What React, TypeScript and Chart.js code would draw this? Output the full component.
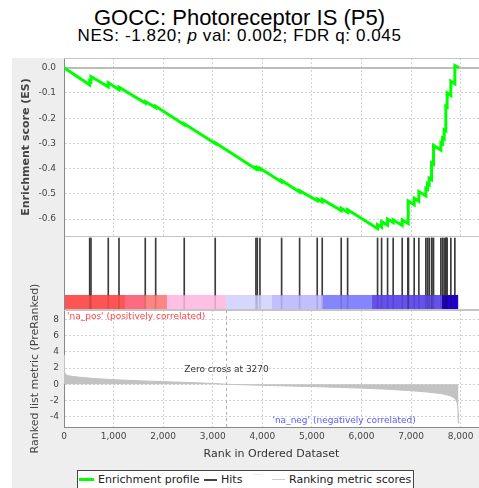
import React, { useEffect, useRef } from "react";
import { Chart, registerables } from "chart.js";

Chart.register(...registerables);

// ---------- data ----------
const titleText = "GOCC: Photoreceptor IS (P5)";
const xTicks = [0, 1000, 2000, 3000, 4000, 5000, 6000, 7000, 8000];
const esTicks = [0, -0.1, -0.2, -0.3, -0.4, -0.5, -0.6];
const metricTicks = [8, 6, 4, 2, 0, -2, -4];

const esRanks = [0, 518, 518, 544, 544, 893, 893, 1109, 1109, 1639, 1639, 1849, 1849, 2425, 2425, 3050, 3050, 3871, 3871, 3898, 3898, 3952, 3952, 4389, 4389, 4752, 4752, 5107, 5107, 5208, 5208, 5591, 5591, 5720, 5720, 6324, 6324, 6405, 6405, 6526, 6526, 6639, 6639, 6821, 6821, 6942, 6942, 7063, 7063, 7157, 7157, 7298, 7298, 7332, 7332, 7365, 7365, 7413, 7413, 7453, 7453, 7601, 7601, 7635, 7635, 7667, 7667, 7701, 7701, 7727, 7727, 7802, 7802, 7883, 7883, 7969];
const esScores = [0, -0.068, -0.052, -0.055, -0.035, -0.076, -0.06, -0.087, -0.077, -0.14, -0.134, -0.158, -0.153, -0.226, -0.222, -0.3, -0.297, -0.401, -0.397, -0.4, -0.396, -0.403, -0.398, -0.453, -0.447, -0.493, -0.487, -0.527, -0.52, -0.532, -0.522, -0.566, -0.557, -0.573, -0.563, -0.637, -0.622, -0.632, -0.61, -0.624, -0.6, -0.614, -0.603, -0.625, -0.603, -0.618, -0.528, -0.543, -0.517, -0.529, -0.491, -0.508, -0.478, -0.482, -0.46, -0.464, -0.438, -0.444, -0.378, -0.383, -0.308, -0.326, -0.298, -0.302, -0.279, -0.283, -0.246, -0.25, -0.153, -0.156, -0.1, -0.11, -0.054, -0.064, 0.009, 0.0];

const hitRanks = [518, 544, 893, 1109, 1639, 1849, 2425, 3050, 3871, 3898, 3952, 4389, 4752, 5107, 5208, 5591, 5720, 6324, 6405, 6526, 6639, 6821, 6936, 6942, 6948, 7063, 7157, 7298, 7332, 7365, 7413, 7420, 7453, 7601, 7635, 7667, 7701, 7708, 7715, 7727, 7802, 7883];

const metricRanks = [0, 5, 15, 30, 60, 120, 200, 300, 450, 600, 800, 1000, 1300, 1600, 2000, 2400, 2800, 3100, 3270, 3600, 4000, 4500, 5000, 5500, 6000, 6500, 6900, 7200, 7400, 7600, 7700, 7800, 7860, 7900, 7925, 7940, 7950, 7955];
const metricScores = [3.6, 2.3, 1.5, 1.25, 1.12, 1.02, 0.95, 0.88, 0.8, 0.72, 0.64, 0.57, 0.49, 0.42, 0.33, 0.25, 0.16, 0.08, 0.0, -0.05, -0.13, -0.2, -0.28, -0.37, -0.47, -0.6, -0.75, -0.88, -1.0, -1.15, -1.27, -1.45, -1.65, -1.9, -2.2, -2.7, -3.6, -4.8];

const barStarts = [0, 1230, 1633, 2077, 3266, 4193, 5221, 6209, 7620];
const barEnds = [1230, 1633, 2077, 3266, 4193, 5221, 6209, 7620, 7950];
const barColors = ["#ff5454", "#ff6b7e", "#ff8484", "#ffbee3", "#d6d6ff", "#c3bfff", "#8585ff", "#6650ee", "#2400cc"];

const zeroCross = 3270;

// ---------- layout constants ----------
const X_MIN = 0;
const X_MAX = 8370;
const ES_MIN = -0.667;
const ES_MAX = 0.0385;
const M_MIN = -5.27;
const M_MAX = 9.17;
const BAND_TOP = 0.203;
const HIT_TOP = 0.973;
const FONT = "'DejaVu Sans', sans-serif";
const GRID = "#d2d2d2";

const fixWidth = (w: number) => (s: any) => {
  s.width = w;
  s.paddingTop = 0;
  s.paddingBottom = 0;
};
const fixHeight = (h: number) => (s: any) => {
  s.height = h;
  s.paddingLeft = 0;
  s.paddingRight = 0;
};
const setTicks = (vals: number[]) => (s: any) => {
  s.ticks = vals.map((v) => ({ value: v }));
};

const framePlugin = {
  id: "frame",
  beforeDraw(chart: any) {
    const { ctx, chartArea: a } = chart;
    ctx.save();
    ctx.fillStyle = "#ffffff";
    ctx.fillRect(a.left, a.top, a.right - a.left, a.bottom - a.top);
    ctx.restore();
  },
  afterDraw(chart: any) {
    const { ctx, chartArea: a } = chart;
    ctx.save();
    ctx.strokeStyle = "#c4c4c4";
    ctx.lineWidth = 1;
    ctx.beginPath();
    ctx.moveTo(a.left, Math.round(a.top) + 0.5);
    ctx.lineTo(a.right, Math.round(a.top) + 0.5);
    ctx.stroke();
    ctx.restore();
  },
};

const colorbarPlugin = {
  id: "colorbar",
  beforeDatasetsDraw(chart: any) {
    const { ctx, scales } = chart;
    const x = scales.x;
    const y = scales.y;
    const yTop = y.getPixelForValue(BAND_TOP);
    const yBot = y.getPixelForValue(0);
    ctx.save();
    for (let i = 0; i < barColors.length; i++) {
      const x0 = x.getPixelForValue(barStarts[i]);
      const x1 = x.getPixelForValue(barEnds[i]);
      ctx.fillStyle = barColors[i];
      ctx.fillRect(x0, yTop, x1 - x0, yBot - yTop);
    }
    ctx.restore();
  },
  afterDraw(chart: any) {
    const { ctx, chartArea: a } = chart;
    ctx.save();
    ctx.strokeStyle = "#c4c4c4";
    ctx.lineWidth = 1;
    ctx.beginPath();
    ctx.moveTo(a.left, Math.round(a.bottom) - 0.5);
    ctx.lineTo(a.right, Math.round(a.bottom) - 0.5);
    ctx.stroke();
    ctx.strokeStyle = "#888888";
    ctx.beginPath();
    ctx.moveTo(Math.round(a.left) + 0.5, a.top);
    ctx.lineTo(Math.round(a.left) + 0.5, a.bottom);
    ctx.stroke();
    ctx.restore();
  },
};

const metricNotes = {
  id: "metricNotes",
  afterDatasetsDraw(chart: any) {
    const { ctx, chartArea: a, scales } = chart;
    const x = scales.x;
    const y = scales.y;
    const zx = Math.round(x.getPixelForValue(zeroCross)) + 0.5;
    ctx.save();
    ctx.strokeStyle = "#b0b0b0";
    ctx.lineWidth = 1;
    ctx.setLineDash([3, 3]);
    ctx.beginPath();
    ctx.moveTo(zx, a.top);
    ctx.lineTo(zx, a.bottom);
    ctx.stroke();
    ctx.setLineDash([]);
    ctx.font = `9px ${FONT}`;
    ctx.textBaseline = "middle";
    ctx.fillStyle = "#333333";
    ctx.textAlign = "center";
    ctx.fillText(`Zero cross at ${zeroCross}`, zx, y.getPixelForValue(1.75));
    ctx.textAlign = "left";
    ctx.fillStyle = "#ff4444";
    ctx.fillText("'na_pos' (positively correlated)", a.left + 3, a.top + 6.5);
    ctx.textAlign = "center";
    ctx.fillStyle = "#5a5aff";
    ctx.fillText("'na_neg' (negatively correlated)", a.left + (a.right - a.left) * 0.675, a.bottom - 6.5);
    ctx.restore();
  },
};

const tickFont = { family: FONT, size: 9 };

function makeES(canvas: HTMLCanvasElement) {
  return new Chart(canvas, {
    type: "line",
    data: {
      datasets: [
        {
          data: esRanks.map((r, i) => ({ x: r, y: esScores[i] })),
          borderColor: "#00ff00",
          borderWidth: 3,
          pointRadius: 0,
          fill: false,
          tension: 0,
        },
      ],
    },
    options: {
      responsive: false,
      animation: false,
      layout: { padding: { top: 8, bottom: 6, left: 0, right: 0 } },
      plugins: { legend: { display: false }, tooltip: { enabled: false } },
      scales: {
        x: {
          type: "linear",
          min: X_MIN,
          max: X_MAX,
          afterBuildTicks: setTicks(xTicks),
          ticks: { display: false },
          grid: { color: GRID, drawTicks: false },
          border: { display: true, color: "#c4c4c4", dash: [2, 2] },
          afterFit: fixHeight(0),
        },
        y: {
          type: "linear",
          min: ES_MIN,
          max: ES_MAX,
          afterBuildTicks: setTicks(esTicks),
          ticks: {
            font: tickFont,
            color: "#444444",
            padding: 8,
            callback: (v: any) => Number(v).toFixed(1),
          },
          grid: {
            drawTicks: false,
            color: (c: any) => (c.tick && c.tick.value === 0 ? "#bdbdbd" : GRID),
            lineWidth: (c: any) => (c.tick && c.tick.value === 0 ? 2 : 1),
          },
          border: {
            color: "#888888",
            dash: (c: any) => (c.tick && c.tick.value === 0 ? [] : [2, 2]),
          },
          title: {
            display: true,
            text: "Enrichment score (ES)",
            font: { family: FONT, size: 11, weight: "bold" },
            color: "#444444",
            padding: { top: 20, bottom: 0 },
          },
          afterFit: fixWidth(64),
        },
      },
    } as any,
    plugins: [framePlugin],
  });
}

function makeHits(canvas: HTMLCanvasElement) {
  return new Chart(canvas, {
    type: "bar",
    data: {
      datasets: [
        {
          data: hitRanks.map((r) => ({ x: r, y: [BAND_TOP, HIT_TOP] })),
          backgroundColor: "#3a3a3a",
          barThickness: 1,
          grouped: false,
        } as any,
        {
          data: hitRanks.map((r) => ({ x: r, y: [0, BAND_TOP] })),
          backgroundColor: "rgba(0,0,0,0.13)",
          barThickness: 1,
          grouped: false,
        } as any,
      ],
    },
    options: {
      responsive: false,
      animation: false,
      layout: { padding: { top: 6, bottom: 6, left: 64, right: 0 } },
      plugins: { legend: { display: false }, tooltip: { enabled: false } },
      scales: {
        x: { type: "linear", min: X_MIN, max: X_MAX, offset: false, display: false },
        y: { type: "linear", min: 0, max: 1, display: false },
      },
    } as any,
    plugins: [framePlugin, colorbarPlugin],
  });
}

function makeMetric(canvas: HTMLCanvasElement) {
  return new Chart(canvas, {
    type: "line",
    data: {
      datasets: [
        {
          data: metricRanks.map((r, i) => ({ x: r, y: metricScores[i] })),
          borderColor: "#c2c2c2",
          backgroundColor: "#c2c2c2",
          borderWidth: 1,
          pointRadius: 0,
          fill: "origin",
          tension: 0,
        },
      ],
    },
    options: {
      responsive: false,
      animation: false,
      layout: { padding: { top: 45, bottom: 0, left: 0, right: 0 } },
      plugins: { legend: { display: false }, tooltip: { enabled: false } },
      scales: {
        x: {
          type: "linear",
          min: X_MIN,
          max: X_MAX,
          afterBuildTicks: setTicks(xTicks),
          ticks: {
            font: tickFont,
            color: "#444444",
            padding: 4,
            maxRotation: 0,
            autoSkip: false,
            callback: (v: any) => Number(v).toLocaleString("en-US"),
          },
          grid: { color: GRID, drawTicks: false },
          border: { color: "#888888", dash: [2, 2] },
          title: {
            display: true,
            text: "Rank in Ordered Dataset",
            font: { family: FONT, size: 11 },
            color: "#333333",
            padding: { top: 0, bottom: 9 },
          },
          afterFit: fixHeight(43),
        },
        y: {
          type: "linear",
          min: M_MIN,
          max: M_MAX,
          afterBuildTicks: setTicks(metricTicks),
          ticks: {
            font: tickFont,
            color: "#444444",
            padding: 5,
            callback: (v: any) => String(v),
          },
          grid: { color: GRID, drawTicks: false },
          border: { color: "#888888", dash: [2, 2] },
          title: {
            display: true,
            text: "Ranked list metric (PreRanked)",
            font: { family: FONT, size: 11 },
            color: "#444444",
            padding: { top: 29, bottom: 0 },
          },
          afterFit: fixWidth(64),
        },
      },
    } as any,
    plugins: [framePlugin, metricNotes],
  });
}

const legendText: React.CSSProperties = {
  position: "absolute",
  top: 473,
  fontFamily: FONT,
  fontSize: 11,
  lineHeight: "13px",
  color: "#222222",
  whiteSpace: "nowrap",
};

export default function App() {
  const refA = useRef<HTMLCanvasElement>(null);
  const refB = useRef<HTMLCanvasElement>(null);
  const refC = useRef<HTMLCanvasElement>(null);

  useEffect(() => {
    const charts = [makeES(refA.current!), makeHits(refB.current!), makeMetric(refC.current!)];
    return () => charts.forEach((c) => c.destroy());
  }, []);

  const cv = (top: number, h: number): React.CSSProperties => ({
    position: "absolute",
    left: 0,
    top,
    width: 479,
    height: h,
  });

  return (
    <div
      style={{
        position: "absolute",
        left: 0,
        top: 0,
        width: 479,
        height: 488,
        overflow: "hidden",
        background: "#ffffff",
      }}
    >
      <div style={{ position: "absolute", left: 12, top: 58, width: 467, height: 430, background: "#eeeeee" }} />
      <div
        style={{
          position: "absolute",
          left: 0,
          width: 479,
          top: 5,
          textAlign: "center",
          fontFamily: "'Liberation Sans', Arial, sans-serif",
          fontSize: 22,
          lineHeight: "25px",
          color: "#000",
        }}
      >
        {titleText}
      </div>
      <div
        style={{
          position: "absolute",
          left: 0,
          width: 479,
          top: 26,
          textAlign: "center",
          fontFamily: "'Liberation Sans', Arial, sans-serif",
          fontSize: 17,
          letterSpacing: "0.6px",
          lineHeight: "20px",
          color: "#000",
        }}
      >
        NES: -1.820; <span style={{ fontStyle: "italic" }}>p</span> val: 0.002; FDR q: 0.045
      </div>
      <canvas ref={refA} width={479} height={192} style={cv(50, 192)} />
      <canvas ref={refB} width={479} height={86} style={cv(230, 86)} />
      <canvas ref={refC} width={479} height={205} style={cv(265, 205)} />
      <div
        style={{
          position: "absolute",
          left: 77,
          top: 470,
          width: 335,
          height: 30,
          border: "1px solid #444",
          background: "#ffffff",
        }}
      />
      <div style={{ position: "absolute", left: 79, top: 478, width: 15, height: 3, background: "#00ff00" }} />
      <div style={{ ...legendText, left: 98 }}>Enrichment profile</div>
      <div style={{ position: "absolute", left: 204, top: 479, width: 13, height: 1.5, background: "#444" }} />
      <div style={{ ...legendText, left: 221 }}>Hits</div>
      <div style={{ position: "absolute", left: 253, top: 474, width: 9, height: 1, background: "#eeeeee" }} />
      <div style={{ position: "absolute", left: 272, top: 479, width: 13, height: 1, background: "#cccccc" }} />
      <div style={{ ...legendText, left: 289 }}>Ranking metric scores</div>
    </div>
  );
}
